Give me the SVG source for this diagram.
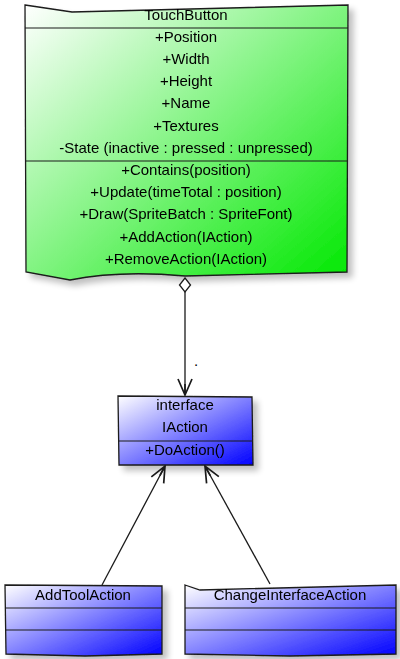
<svg xmlns="http://www.w3.org/2000/svg" width="400" height="659" viewBox="0 0 400 659">
<style>
text{font-family:"Liberation Sans","DejaVu Sans",sans-serif;font-size:15px;fill:#000;text-anchor:middle;dominant-baseline:middle}
.box{stroke:#1a1a1a;stroke-width:1.3}
.sep{stroke:#1a1a1a;stroke-width:1.2;fill:none}
.edge{stroke:#1a1a1a;stroke-width:1.3;fill:none}
</style>
<defs>
<linearGradient id="gGreen" x1="0" y1="0" x2="1" y2="1">
<stop offset="0" stop-color="#ffffff"/><stop offset="1" stop-color="#00e800"/>
</linearGradient>
<linearGradient id="gBlue" x1="0" y1="0" x2="1" y2="1">
<stop offset="0" stop-color="#ffffff"/><stop offset="1" stop-color="#0000ff"/>
</linearGradient>
<filter id="sh" x="-10%" y="-10%" width="130%" height="130%">
<feGaussianBlur in="SourceAlpha" stdDeviation="3"/>
<feOffset dx="5" dy="5"/>
<feComponentTransfer><feFuncA type="linear" slope="0.25"/></feComponentTransfer>
<feMerge><feMergeNode/><feMergeNode in="SourceGraphic"/></feMerge>
</filter>
<marker id="open" viewBox="0 0 18 18" refX="17" refY="9" markerWidth="18" markerHeight="18" markerUnits="userSpaceOnUse" orient="auto">
<path d="M1,2 L17,9 L1,16 M17,9 L6,9" fill="none" stroke="#1a1a1a" stroke-width="1.7"/>
</marker>
<marker id="dia" viewBox="0 0 20 14" refX="1" refY="7" markerWidth="20" markerHeight="14" markerUnits="userSpaceOnUse" orient="auto">
<path d="M1,7 L8,1.5 L15,7 L8,12.5 Z" fill="#fff" stroke="#1a1a1a" stroke-width="1.3"/>
</marker>
</defs>

<g id="TouchButton" filter="url(#sh)">
<path class="box" fill="url(#gGreen)" d="M25,5 L72,12 L348,5 L347,272 L185,276 Q120,270 70,280 L26,272 Z"/>
<line class="sep" x1="25" y1="28" x2="348" y2="28"/>
<line class="sep" x1="26" y1="161" x2="347" y2="161"/>
<text x="186" y="16">TouchButton</text>
<text x="186" y="38">+Position</text>
<text x="186" y="60">+Width</text>
<text x="186" y="82">+Height</text>
<text x="186" y="104">+Name</text>
<text x="186" y="127">+Textures</text>
<text x="186" y="149">-State (inactive : pressed : unpressed)</text>
<text x="186" y="171">+Contains(position)</text>
<text x="186" y="193">+Update(timeTotal : position)</text>
<text x="186" y="215">+Draw(SpriteBatch : SpriteFont)</text>
<text x="186" y="238">+AddAction(IAction)</text>
<text x="186" y="260">+RemoveAction(IAction)</text>
</g>

<g id="IAction" filter="url(#sh)">
<path class="box" fill="url(#gBlue)" d="M118,396 L252,397 L253,465 L119,465 Z"/>
<line class="sep" x1="118" y1="441" x2="253" y2="441"/>
<text x="185" y="406">interface</text>
<text x="185" y="428">IAction</text>
<text x="185" y="451">+DoAction()</text>
</g>

<g id="AddToolAction" filter="url(#sh)">
<path class="box" fill="url(#gBlue)" d="M5,585 L162,586 L162,654 L85,656 L6,654 Z"/>
<line class="sep" x1="5" y1="608" x2="162" y2="608"/>
<line class="sep" x1="5" y1="630" x2="162" y2="630"/>
<text x="83" y="596">AddToolAction</text>
</g>

<g id="ChangeInterfaceAction" filter="url(#sh)">
<path class="box" fill="url(#gBlue)" d="M185,585 L200,590 L396,585 L396,654 L290,656 L185,654 Z"/>
<line class="sep" x1="185" y1="608" x2="396" y2="608"/>
<line class="sep" x1="185" y1="630" x2="396" y2="630"/>
<text x="290" y="596">ChangeInterfaceAction</text>
</g>

<g id="connectors">
<path class="edge" d="M185,278 L185,395" marker-start="url(#dia)" marker-end="url(#open)"/>
<text x="196" y="362" font-size="14">.</text>
<path class="edge" d="M102,585 L165,466" marker-end="url(#open)"/>
<path class="edge" d="M270,584 L205,466" marker-end="url(#open)"/>
</g>
</svg>
